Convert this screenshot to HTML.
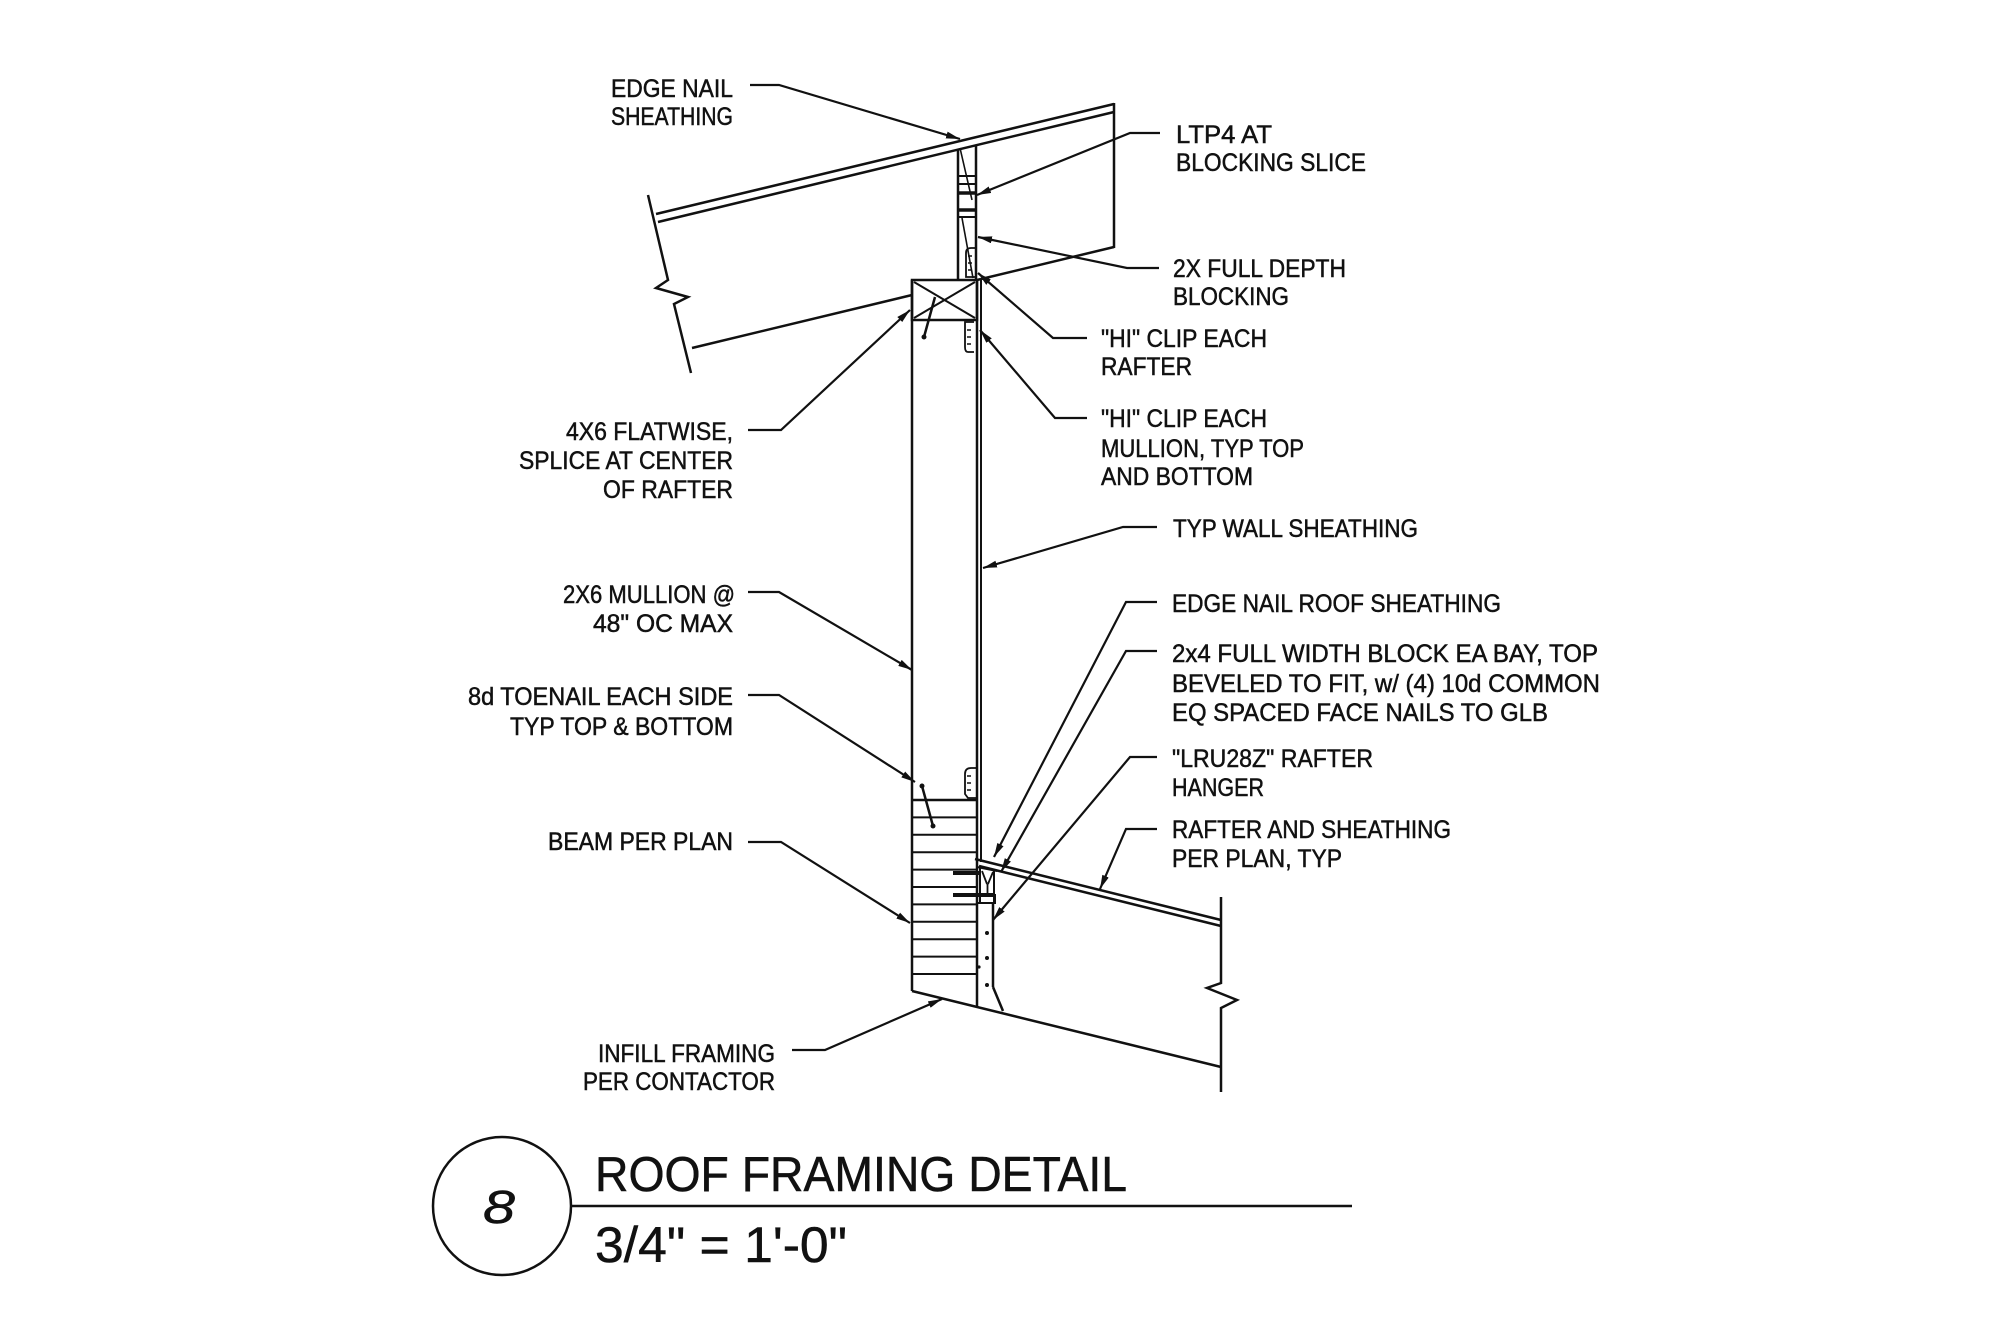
<!DOCTYPE html>
<html>
<head>
<meta charset="utf-8">
<style>
  html,body{margin:0;padding:0;background:#fff;}
  svg{display:block;}
  text{font-family:"Liberation Sans",sans-serif;fill:#111;stroke:#111;stroke-width:0.5px;}
</style>
</head>
<body>
<svg width="2000" height="1332" viewBox="0 0 2000 1332" xmlns="http://www.w3.org/2000/svg">
  <defs>
    <marker id="a" markerWidth="16" markerHeight="8" refX="14" refY="3.5" orient="auto" markerUnits="userSpaceOnUse">
      <path d="M0,0 L14,3.5 L0,7 z" fill="#111"/>
    </marker>
  </defs>
  <rect width="2000" height="1332" fill="#fff"/>

  <!-- ================= DRAWING ================= -->
  <g stroke="#111" stroke-width="2.5" fill="none" stroke-linejoin="miter">
    <!-- Upper rafter sheathing (double line) -->
    <line x1="656" y1="214" x2="1114" y2="104"/>
    <line x1="658" y1="222" x2="1114" y2="112"/>
    <!-- Upper rafter bottom line -->
    <line x1="692" y1="348" x2="912" y2="295"/>
    <line x1="977" y1="280" x2="1114" y2="247"/>
    <!-- Upper rafter right end -->
    <line x1="1114" y1="103" x2="1114" y2="248"/>
    <!-- Upper rafter left break line -->
    <polyline points="648,195 668,280 656,288 688,297 674,304 691,373"/>

    <!-- Blocking -->
    <line x1="958" y1="149" x2="958" y2="280"/>
    <line x1="976" y1="145" x2="976" y2="280"/>
    <rect x="958" y="176" width="18" height="8" stroke-width="2"/>
    <line x1="958" y1="193" x2="976" y2="193" stroke-width="3.5"/>
    <line x1="958" y1="210" x2="976" y2="210" stroke-width="3.5"/>
    <line x1="958" y1="217" x2="976" y2="217" stroke-width="2"/>
    <line x1="960" y1="148" x2="972" y2="200" stroke-width="1.6"/>
    <line x1="962" y1="218" x2="973" y2="278" stroke-width="1.6"/>
    <!-- HI clip at rafter -->
    <path d="M975,277 L966,277 L966,253 Q966,248 971,248 L975,248" stroke-width="1.8"/>
    <line x1="968" y1="256" x2="972" y2="256" stroke-width="1.5"/>
    <line x1="968" y1="263" x2="972" y2="263" stroke-width="1.5"/>
    <line x1="968" y1="270" x2="972" y2="270" stroke-width="1.5"/>

    <!-- 4x6 flatwise box -->
    <rect x="912" y="280" width="65" height="40"/>
    <line x1="914" y1="282" x2="975" y2="318" stroke-width="2"/>
    <line x1="975" y1="282" x2="914" y2="318" stroke-width="2"/>
    <!-- toenail at top -->
    <line x1="935" y1="297" x2="924" y2="337" stroke-width="2.5"/>
    <circle cx="924" cy="337" r="2.5" fill="#111" stroke="none"/>
    <!-- HI clip below box -->
    <path d="M974,352 L968,352 Q965,352 965,347 L965,322 L974,322" stroke-width="1.8"/>
    <line x1="967" y1="330" x2="971" y2="330" stroke-width="1.5"/>
    <line x1="967" y1="337" x2="971" y2="337" stroke-width="1.5"/>
    <line x1="967" y1="344" x2="971" y2="344" stroke-width="1.5"/>

    <!-- Mullion -->
    <line x1="912" y1="280" x2="912" y2="991"/>
    <line x1="977" y1="280" x2="977" y2="1007"/>
    <line x1="981" y1="280" x2="981" y2="862" stroke-width="2"/>

    <!-- HI clip bottom of mullion -->
    <path d="M977,798 L968,798 L965,794 L965,774 Q965,768 971,768 L977,768" stroke-width="1.8"/>
    <line x1="967" y1="776" x2="971" y2="776" stroke-width="1.5"/>
    <line x1="967" y1="783" x2="971" y2="783" stroke-width="1.5"/>
    <line x1="967" y1="790" x2="971" y2="790" stroke-width="1.5"/>

    <!-- Beam laminations -->
    <line x1="912" y1="800" x2="977" y2="800"/>
    <line x1="912" y1="817.4" x2="977" y2="817.4" stroke-width="2"/>
    <line x1="912" y1="834.8" x2="977" y2="834.8" stroke-width="2"/>
    <line x1="912" y1="852.2" x2="977" y2="852.2" stroke-width="2"/>
    <line x1="912" y1="869.6" x2="977" y2="869.6" stroke-width="2"/>
    <line x1="912" y1="887" x2="977" y2="887" stroke-width="2"/>
    <line x1="912" y1="904.4" x2="977" y2="904.4" stroke-width="2"/>
    <line x1="912" y1="921.8" x2="977" y2="921.8" stroke-width="2"/>
    <line x1="912" y1="939.2" x2="977" y2="939.2" stroke-width="2"/>
    <line x1="912" y1="956.6" x2="977" y2="956.6" stroke-width="2"/>
    <line x1="912" y1="974" x2="977" y2="974" stroke-width="2"/>

    <!-- toenail at bottom -->
    <line x1="922" y1="786" x2="933" y2="826" stroke-width="2.5"/>
    <circle cx="922" cy="786" r="2.5" fill="#111" stroke="none"/>
    <circle cx="933" cy="826" r="2.5" fill="#111" stroke="none"/>

    <!-- Lower rafter bottom line -->
    <line x1="912" y1="991" x2="1221" y2="1067"/>
    <!-- Lower rafter sheathing -->
    <line x1="975" y1="859" x2="1221" y2="920"/>
    <line x1="979" y1="866" x2="1221" y2="926"/>
    <!-- Lower rafter break line -->
    <polyline points="1221,897 1221,983 1207,988 1237,1000 1221,1008 1221,1092"/>

    <!-- Infill block -->
    <line x1="993" y1="904" x2="993" y2="987"/>
    <line x1="993" y1="987" x2="1003" y2="1011"/>
    <circle cx="987" cy="933" r="2" fill="#111" stroke="none"/>
    <circle cx="987" cy="958" r="2" fill="#111" stroke="none"/>
    <circle cx="987" cy="985" r="2" fill="#111" stroke="none"/>
    <circle cx="979" cy="967" r="1.6" fill="#111" stroke="none"/>

    <!-- Hanger -->
    <line x1="977" y1="867" x2="997" y2="871" stroke-width="2"/>
    <line x1="980" y1="868" x2="980" y2="903" stroke-width="2"/>
    <line x1="994" y1="870" x2="994" y2="903" stroke-width="2"/>
    <line x1="982" y1="871" x2="987" y2="884" stroke-width="1.8"/>
    <line x1="993" y1="872" x2="988" y2="884" stroke-width="1.8"/>
    <line x1="987.5" y1="884" x2="987.5" y2="897" stroke-width="1.8"/>
    <rect x="977" y="895" width="18" height="8" stroke-width="2"/>
    <line x1="953" y1="873" x2="981" y2="873" stroke-width="4"/>
    <line x1="953" y1="895" x2="993" y2="895" stroke-width="4"/>
  </g>

  <!-- ================= LEADERS ================= -->
  <g stroke="#111" stroke-width="2.2" fill="none" marker-end="url(#a)">
    <polyline points="750,85 779,85 960,139"/>
    <polyline points="1160,133 1130,133 977,195"/>
    <polyline points="1159,268 1127,268 978,237"/>
    <polyline points="1087,338 1053,338 978,273"/>
    <polyline points="1087,418 1055,418 980,330"/>
    <polyline points="748,430 781,430 910,310"/>
    <polyline points="1157,527 1123,527 983,568"/>
    <polyline points="748,592 779,592 912,670"/>
    <polyline points="1157,602 1126,602 994,857"/>
    <polyline points="1157,651 1126,651 1001,872"/>
    <polyline points="748,695 779,695 915,782"/>
    <polyline points="1157,757 1130,757 993,920"/>
    <polyline points="1157,829 1126,829 1100,889"/>
    <polyline points="748,842 781,842 910,923"/>
    <polyline points="792,1050 825,1050 942,999"/>
  </g>

  <!-- ================= LABELS ================= -->
  <g font-size="25" lengthAdjust="spacingAndGlyphs">
    <text x="611" y="97" textLength="122" lengthAdjust="spacingAndGlyphs">EDGE NAIL</text>
    <text x="611" y="125" textLength="122" lengthAdjust="spacingAndGlyphs">SHEATHING</text>

    <text x="566" y="440" textLength="167" lengthAdjust="spacingAndGlyphs">4X6 FLATWISE,</text>
    <text x="519" y="469" textLength="214" lengthAdjust="spacingAndGlyphs">SPLICE AT CENTER</text>
    <text x="603" y="498" textLength="130" lengthAdjust="spacingAndGlyphs">OF RAFTER</text>

    <text x="563" y="603" textLength="172" lengthAdjust="spacingAndGlyphs">2X6 MULLION @</text>
    <text x="593" y="632" textLength="140" lengthAdjust="spacingAndGlyphs">48" OC MAX</text>

    <text x="468" y="705" textLength="265" lengthAdjust="spacingAndGlyphs">8d TOENAIL EACH SIDE</text>
    <text x="510" y="735" textLength="223" lengthAdjust="spacingAndGlyphs">TYP TOP &amp; BOTTOM</text>

    <text x="548" y="850" textLength="185" lengthAdjust="spacingAndGlyphs">BEAM PER PLAN</text>

    <text x="598" y="1062" textLength="177" lengthAdjust="spacingAndGlyphs">INFILL FRAMING</text>
    <text x="583" y="1090" textLength="192" lengthAdjust="spacingAndGlyphs">PER CONTACTOR</text>

    <text x="1176" y="143" textLength="96" lengthAdjust="spacingAndGlyphs">LTP4 AT</text>
    <text x="1176" y="171" textLength="190" lengthAdjust="spacingAndGlyphs">BLOCKING SLICE</text>

    <text x="1173" y="277" textLength="173" lengthAdjust="spacingAndGlyphs">2X FULL DEPTH</text>
    <text x="1173" y="305" textLength="116" lengthAdjust="spacingAndGlyphs">BLOCKING</text>

    <text x="1101" y="347" textLength="166" lengthAdjust="spacingAndGlyphs">"HI" CLIP EACH</text>
    <text x="1101" y="375" textLength="91" lengthAdjust="spacingAndGlyphs">RAFTER</text>

    <text x="1101" y="427" textLength="166" lengthAdjust="spacingAndGlyphs">"HI" CLIP EACH</text>
    <text x="1101" y="457" textLength="203" lengthAdjust="spacingAndGlyphs">MULLION, TYP TOP</text>
    <text x="1101" y="485" textLength="152" lengthAdjust="spacingAndGlyphs">AND BOTTOM</text>

    <text x="1173" y="537" textLength="245" lengthAdjust="spacingAndGlyphs">TYP WALL SHEATHING</text>

    <text x="1172" y="612" textLength="329" lengthAdjust="spacingAndGlyphs">EDGE NAIL ROOF SHEATHING</text>

    <text x="1172" y="662" textLength="426" lengthAdjust="spacingAndGlyphs">2x4 FULL WIDTH BLOCK EA BAY, TOP</text>
    <text x="1172" y="692" textLength="428" lengthAdjust="spacingAndGlyphs">BEVELED TO FIT,  w/ (4) 10d COMMON</text>
    <text x="1172" y="721" textLength="376" lengthAdjust="spacingAndGlyphs">EQ SPACED FACE NAILS TO GLB</text>

    <text x="1172" y="767" textLength="201" lengthAdjust="spacingAndGlyphs">"LRU28Z" RAFTER</text>
    <text x="1172" y="796" textLength="92" lengthAdjust="spacingAndGlyphs">HANGER</text>

    <text x="1172" y="838" textLength="279" lengthAdjust="spacingAndGlyphs">RAFTER AND SHEATHING</text>
    <text x="1172" y="867" textLength="170" lengthAdjust="spacingAndGlyphs">PER PLAN, TYP</text>
  </g>

  <!-- ================= TITLE BLOCK ================= -->
  <circle cx="502" cy="1206" r="69" fill="none" stroke="#111" stroke-width="2.5"/>
  <text x="483" y="1223" font-size="46" font-style="italic" textLength="32" lengthAdjust="spacingAndGlyphs">8</text>
  <line x1="571" y1="1206" x2="1352" y2="1206" stroke="#111" stroke-width="2.5"/>
  <text x="595" y="1191" font-size="49" textLength="532" lengthAdjust="spacingAndGlyphs">ROOF FRAMING DETAIL</text>
  <text x="595" y="1262" font-size="50" textLength="252" lengthAdjust="spacingAndGlyphs">3/4" = 1'-0"</text>
</svg>
</body>
</html>
